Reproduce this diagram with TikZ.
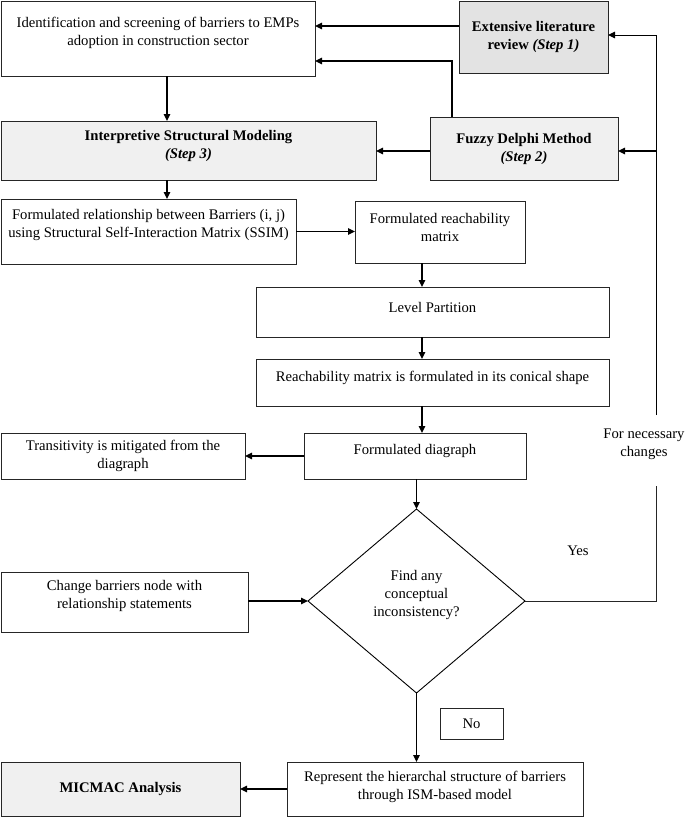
\documentclass[tikz,border=0pt]{standalone}
\usepackage{fontspec}
\setmainfont{Liberation Serif}
\usetikzlibrary{arrows.meta,shapes.geometric,calc}
\newcommand\btxt[4]{\parbox[c][#2pt][c]{#1pt}{\centering #4\par\vspace*{#3pt}}}
\begin{document}
\begin{tikzpicture}[x=1pt,y=-1pt,
  every node/.style={font=\fontsize{14.67}{18}\selectfont, inner sep=0pt, outer sep=0pt},
  box/.style={draw=black!85, line width=1pt, rectangle},
  gbox/.style={box, fill=black!6},
  gboxd/.style={box, fill=black!11},
  arr/.style={draw=black, line width=1.3pt, -{Triangle[length=7pt,width=6.5pt]}},
  arrthin/.style={draw=black, line width=1pt, -{Triangle[length=7pt,width=6.5pt]}},
  ln/.style={draw=black!85, line width=1pt},
  dec/.style={draw=black, line width=0.9pt, diamond, aspect=1.18, minimum width=217pt, minimum height=184pt},
  lbl/.style={align=center}
]
\fill[white] (0,0) rectangle (685,817);
\useasboundingbox (0,0) rectangle (685,817);

% boxes
\node[box] (b1) at (158,38.5) {\btxt{314}{75}{11}{Identification and screening of barriers to EMPs\\adoption in construction sector}};
\node[gboxd] (s1) at (533.5,37) {\btxt{149}{72}{0}{\bfseries Extensive literature\\review \textit{(Step 1)}}};
\node[gbox] (ism) at (188.5,150.5) {\btxt{375}{59}{10}{\bfseries Interpretive Structural Modeling\\\textit{(Step 3)}}};
\node[gbox] (s2) at (524,148.5) {\btxt{188}{63}{0}{\bfseries Fuzzy Delphi Method\\\textit{(Step 2)}}};
\node[box] (ssim) at (148.5,231.5) {\btxt{295}{65}{13}{Formulated relationship between Barriers (i, j)\\using Structural Self-Interaction Matrix (SSIM)}};
\node[box] (reach) at (440,232) {\btxt{170}{62}{10}{Formulated reachability\\matrix}};
\node[box] (level) at (432.5,312) {\btxt{353}{50}{10}{Level Partition}};
\node[box] (conic) at (432.5,382.5) {\btxt{353}{47}{9}{Reachability matrix is formulated in its conical shape}};
\node[box] (diag) at (415,456) {\btxt{222}{46}{10}{Formulated diagraph}};
\node[box] (trans) at (123,456) {\btxt{244}{46}{0}{Transitivity is mitigated from the\\diagraph}};
\node[dec] (dia) at (416.5,601) {\btxt{110}{70}{12}{Find any\\conceptual\\inconsistency?}};
\node[box] (change) at (124.5,602) {\btxt{247}{60}{12}{Change barriers node with\\relationship statements}};
\node[box] (no) at (471.5,723.5) {\btxt{63}{31}{0}{No}};
\node[box] (rep) at (435,789) {\btxt{296}{54}{4}{Represent the hierarchal structure of barriers\\through ISM-based model}};
\node[gbox] (mic) at (120.5,789) {\btxt{239}{54}{0}{\bfseries MICMAC Analysis}};
\node (yes) at (578,551) {Yes};
\node[lbl] (fnc) at (644,444) {For necessary\\changes};

% connectors
\path ([yshift=11pt]s1.west) coordinate (s1out);
\draw[arr] (s1out) -- (s1out -| b1.east);
\path ([xshift=-72pt]s2.north) coordinate (s2up);
\path ([yshift=-22.5pt]b1.east) coordinate (b1in);
\draw[arr] (s2up) -- (s2up |- b1in) -- (b1in);
\path ([xshift=9pt]b1.south) coordinate (b1out);
\draw[arr] (b1out) -- (b1out |- ism.north);
\path ([yshift=-2.5pt]s2.west) coordinate (s2out);
\draw[arr] (s2out) -- (s2out -| ism.east);
\path ([xshift=-21.5pt]ism.south) coordinate (ismout);
\draw[arr] (ismout) -- (ismout |- ssim.north);
\draw[arr] (ssim.east) -- (ssim.east -| reach.west);
\path ([xshift=-18pt]reach.south) coordinate (rout);
\draw[arr] (rout) -- (rout |- level.north);
\path ([xshift=-10.5pt]level.south) coordinate (lout);
\draw[arr] (lout) -- (lout |- conic.north);
\path ([xshift=-10.5pt]conic.south) coordinate (cout);
\draw[arr] (cout) -- (cout |- diag.north);
\draw[arr] (diag.west) -- (trans.east);
\draw[arr] (diag.south -| dia.north) -- (dia.north);
\draw[arr] (change.east |- dia.west) -- (dia.west);
\draw[arrthin] (dia.south) -- (dia.south |- rep.north);
\draw[arr] (rep.west) -- (mic.east);

% feedback loop
\coordinate (fbA) at (656,486);
\coordinate (fbB) at (656,415);
\draw[ln] (dia.east) -- (dia.east -| fbA) -- (fbA);
\path ([yshift=2pt]s1.east) coordinate (s1in);
\draw[arrthin] (fbB) -- (fbB |- s1in) -- (s1in);
\path ([yshift=-2.5pt]s2.east) coordinate (s2in);
\draw[arr] (fbB |- s2in) -- (s2in);
\end{tikzpicture}
\end{document}
